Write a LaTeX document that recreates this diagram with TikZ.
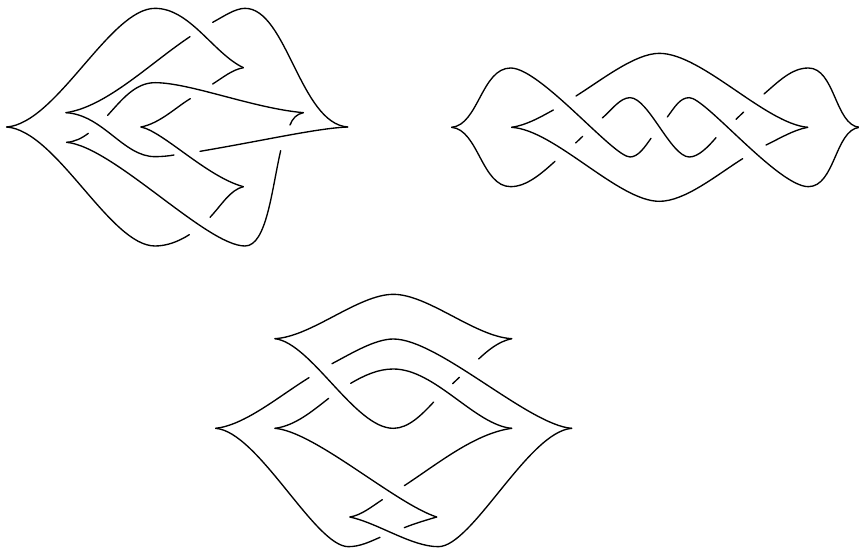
\documentclass[tikz,border=0pt]{standalone}
\tikzset{
  knotline/.style={draw=black,line width=1.35pt,line cap=round,line join=round},
  zoomed/.style={x=0.33333pt,y=-0.33333pt}
}
\begin{document}
\begin{tikzpicture}[x=1pt,y=-1pt]
\useasboundingbox (0,0) rectangle (859,548);
\clip (0,0) rectangle (859,548);
% first knot
\begin{scope}[shift={(0,0)},zoomed]
\draw[knotline] (20,381) .. controls (170,370) and (330,25) .. (465,25) .. controls (570,25) and (640,160) .. (730,203);
\draw[knotline] (20,381) .. controls (170,392) and (330,738) .. (465,738) .. controls (500,738) and (535,725) .. (568,704);
\draw[knotline] (638,67) .. controls (670,50) and (705,25) .. (735,25) .. controls (860,25) and (900,370) .. (1043,381);
\draw[knotline] (1043,381) .. controls (950,385) and (800,420) .. (600,454);
\draw[knotline] (570,110) .. controls (450,190) and (320,320) .. (198,338);
\draw[knotline] (198,338) .. controls (310,345) and (370,470) .. (465,470) .. controls (485,470) and (505,468) .. (522,465);
\draw[knotline] (730,203) .. controls (695,210) and (670,232) .. (638,252);
\draw[knotline] (323,346) .. controls (365,300) and (405,248) .. (465,248) .. controls (570,248) and (760,325) .. (910,338);
\draw[knotline] (910,338) .. controls (890,342) and (878,355) .. (870,375);
\draw[knotline] (571,296) .. controls (530,320) and (480,370) .. (423,381);
\draw[knotline] (423,381) .. controls (490,395) and (620,530) .. (730,560);
\draw[knotline] (730,560) .. controls (690,570) and (665,615) .. (630,652);
\draw[knotline] (265,400) .. controls (245,415) and (225,425) .. (200,427);
\draw[knotline] (200,427) .. controls (340,440) and (620,738) .. (735,738) .. controls (800,738) and (815,570) .. (842,452);
\end{scope}
% second knot
\begin{scope}[shift={(445,40)},zoomed]
\draw[knotline] (20,262) .. controls (100,255) and (110,84) .. (197,84) .. controls (286,84) and (505,351) .. (555,351) .. controls (580,351) and (600,320) .. (618,295);
\draw[knotline] (20,262) .. controls (100,269) and (110,440) .. (197,440) .. controls (245,440) and (290,400) .. (330,364);
\draw[knotline] (393,168) .. controls (470,120) and (570,40) .. (643,40) .. controls (770,40) and (960,250) .. (1088,262);
\draw[knotline] (325,210) .. controls (285,232) and (245,255) .. (200,262);
\draw[knotline] (200,262) .. controls (330,270) and (520,484) .. (643,484) .. controls (720,484) and (815,405) .. (893,356);
\draw[knotline] (392,309) -- (413,289);
\draw[knotline] (472,234) .. controls (500,210) and (525,173) .. (555,173) .. controls (610,173) and (678,351) .. (733,351) .. controls (760,351) and (790,320) .. (813,293);
\draw[knotline] (667,231) .. controls (690,200) and (705,173) .. (733,173) .. controls (781,173) and (1000,440) .. (1090,440) .. controls (1170,440) and (1170,270) .. (1243,262);
\draw[knotline] (873,238) -- (896,216);
\draw[knotline] (1088,262) .. controls (1045,270) and (1005,295) .. (963,315);
\draw[knotline] (957,162) .. controls (1000,125) and (1040,84) .. (1090,84) .. controls (1170,84) and (1170,255) .. (1243,262);
\end{scope}
% third knot
\begin{scope}[shift={(205,285)},zoomed]
\draw[knotline] (210,161) .. controls (320,155) and (460,28) .. (565,28) .. controls (670,28) and (810,155) .. (920,161);
\draw[knotline] (920,161) .. controls (880,170) and (850,195) .. (821,222);
\draw[knotline] (210,161) .. controls (320,175) and (450,430) .. (565,430) .. controls (610,430) and (650,390) .. (686,351);
\draw[knotline] (381,236) .. controls (440,205) and (510,162) .. (565,162) .. controls (700,162) and (970,420) .. (1100,430);
\draw[knotline] (1100,430) .. controls (970,440) and (802,785) .. (700,785) .. controls (620,785) and (520,715) .. (435,696);
\draw[knotline] (435,696) .. controls (470,690) and (500,665) .. (532,644);
\draw[knotline] (312,278) .. controls (220,335) and (120,420) .. (32,430);
\draw[knotline] (32,430) .. controls (160,440) and (330,785) .. (430,785) .. controls (465,785) and (495,770) .. (525,757);
\draw[knotline] (437,295) .. controls (480,270) and (520,252) .. (565,252) .. controls (690,252) and (810,420) .. (920,430);
\draw[knotline] (920,430) .. controls (810,445) and (700,535) .. (598,602);
\draw[knotline] (371,340) .. controls (320,380) and (270,422) .. (210,430);
\draw[knotline] (210,430) .. controls (330,440) and (570,655) .. (695,696);
\draw[knotline] (695,696) .. controls (665,705) and (630,715) .. (598,728);
\draw[knotline] (743,296) -- (763,277);
\end{scope}
\end{tikzpicture}
\end{document}
